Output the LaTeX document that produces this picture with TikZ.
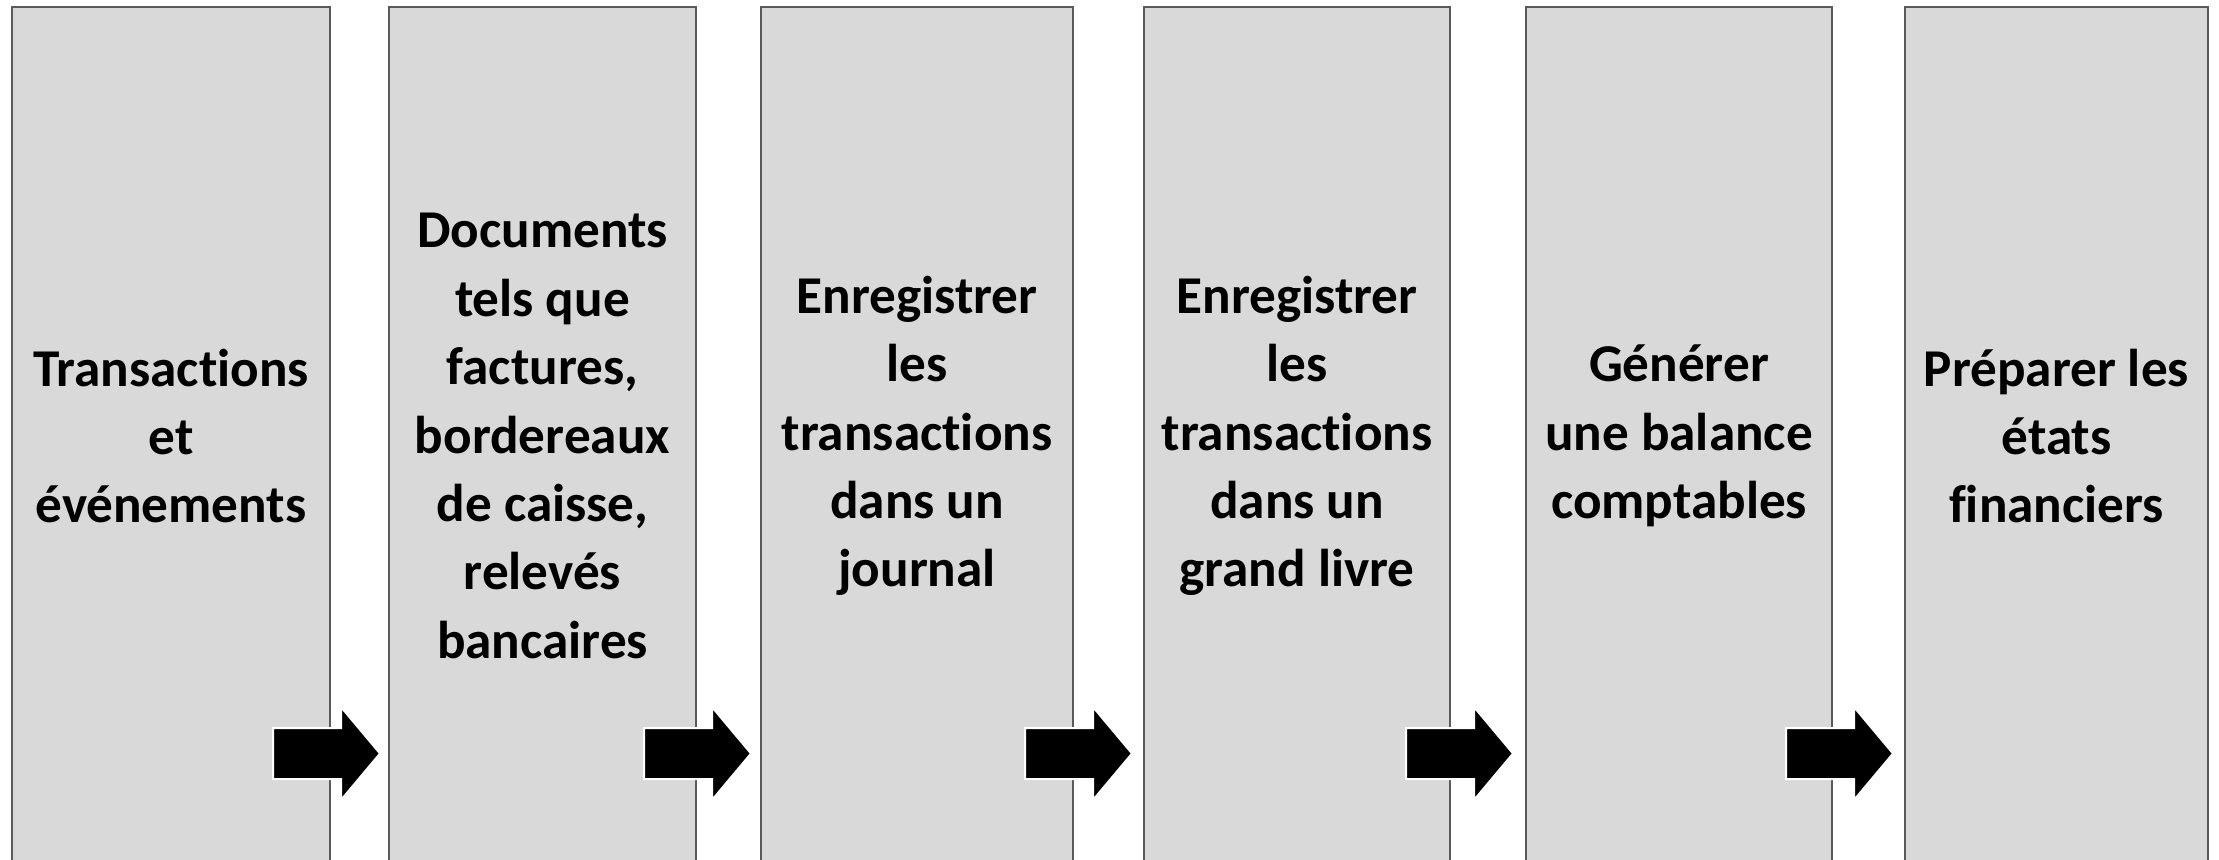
\documentclass[tikz,border=0pt]{standalone}
\usepackage{fontspec}
\setmainfont[Ligatures={NoCommon}]{Carlito}
\definecolor{boxfill}{RGB}{217,217,217}
\definecolor{boxline}{RGB}{90,90,90}
\begin{document}
\begin{tikzpicture}[x=0.5pt,y=-0.5pt,
  stage/.style={draw=boxline, line width=1.2pt, fill=boxfill, minimum width=#1,
    minimum height=429pt, inner sep=0pt, outer sep=0pt, align=center, anchor=north west,
    font=\fontsize{26.6pt}{34.2pt}\selectfont\bfseries},
  blockarrow/.style={fill=black, draw=white, line width=1pt}]
\useasboundingbox (0,0) rectangle (2219,859);
\node[stage=159pt] (b1) at (12,7) {Transactions\\et\\événements};
\node[stage=153.5pt] (b2) at (389,7) {Documents\\tels que\\factures,\\bordereaux\\de caisse,\\relevés\\bancaires};
\node[stage=156pt] (b3) at (761,7) {Enregistrer\\les\\transactions\\dans un\\journal};
\node[stage=153pt] (b4) at (1144,7) {Enregistrer\\les\\transactions\\dans un\\grand livre};
\node[stage=153pt] (b5) at (1526,7) {Générer\\une balance\\comptables};
\node[stage=151.5pt] (b6) at (1905,7) {Préparer les\\états\\financiers};
\foreach \i/\x in {1/273,2/644,3/1025,4/1406,5/1786}{
  \coordinate (a\i) at (\x,753.5);
  \path[blockarrow] (a\i) -- ++(0,-25.5) -- ++(68,0) -- ++(0,-21) -- ++(39,46.5)
    -- ++(-39,46.5) -- ++(0,-21) -- ++(-68,0) -- cycle;
}
\end{tikzpicture}
\end{document}
